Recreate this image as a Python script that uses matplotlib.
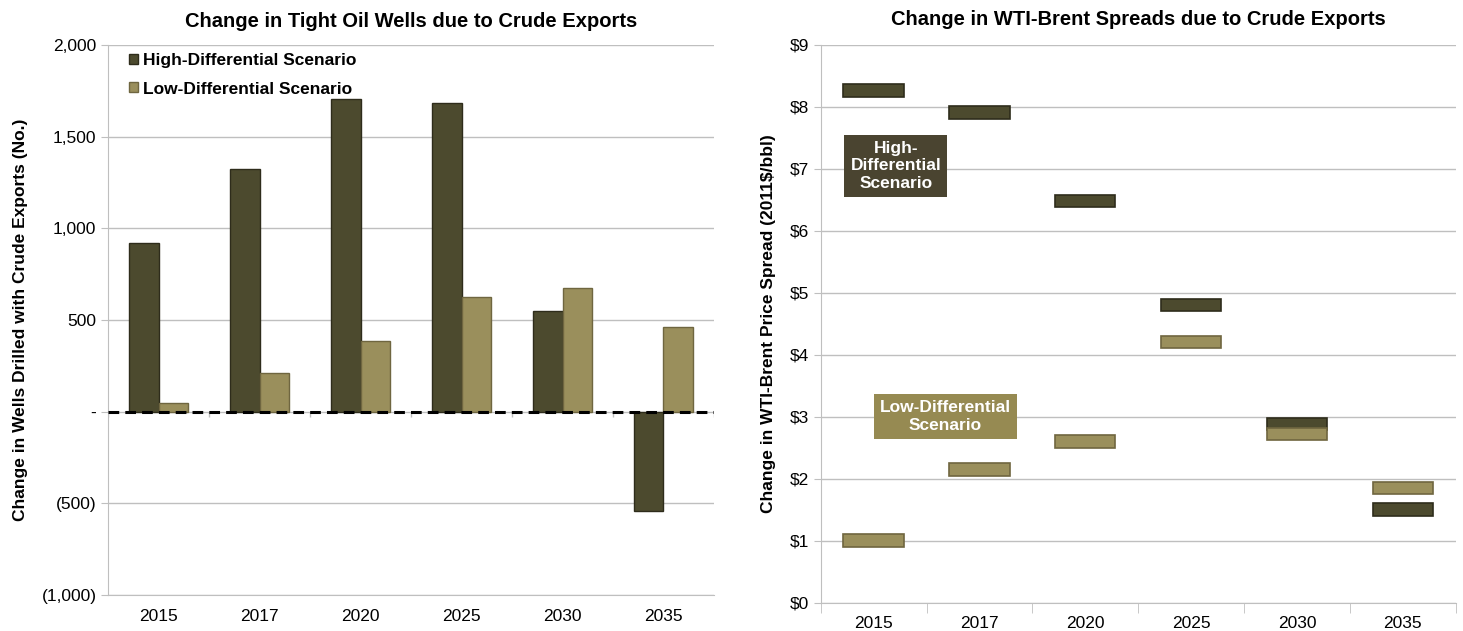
import matplotlib.pyplot as plt
import numpy as np
from matplotlib.ticker import FuncFormatter

plt.rcParams['font.family'] = ['Liberation Sans', 'DejaVu Sans']

years = ["2015", "2017", "2020", "2025", "2030", "2035"]
wells_high = [922, 1325, 1707, 1680, 548, -540]
wells_low = [45, 213, 387, 627, 676, 464]
spread_high = [8.26, 7.91, 6.48, 4.80, 2.88, 1.50]
spread_low = [1.00, 2.15, 2.60, 4.20, 2.72, 1.85]

DARK = "#4c4a2e"
LIGHT = "#9a8f5c"
DARK_EDGE = "#2e2c1b"
LIGHT_EDGE = "#6f6640"
GRID = "#bfbfbf"

fig = plt.figure(figsize=(14.63, 6.31), dpi=100)
ax1 = fig.add_axes([0.074, 0.057, 0.414, 0.872])
ax2 = fig.add_axes([0.561, 0.045, 0.434, 0.884])

x = np.arange(len(years))

# left: wells drilled
w = 0.29
ax1.bar(x - w / 2, wells_high, w, color=DARK, edgecolor=DARK_EDGE, lw=1,
        label="High-Differential Scenario", zorder=3)
ax1.bar(x + w / 2, wells_low, w, color=LIGHT, edgecolor=LIGHT_EDGE, lw=1,
        label="Low-Differential Scenario", zorder=3)
ax1.axhline(0, color="black", lw=2.2, ls=(0, (3.5, 2)), zorder=4)
ax1.set_ylim(-1000, 2000)
ax1.set_xlim(-0.5, len(years) - 0.5)
ax1.set_yticks(np.arange(-1000, 2001, 500))


def wells_fmt(v, pos):
    if v == 0:
        return "-"
    if v < 0:
        return "({:,.0f})".format(-v)
    return "{:,.0f}".format(v)


ax1.yaxis.set_major_formatter(FuncFormatter(wells_fmt))
ax1.set_xticks(x)
ax1.set_xticklabels(years)
ax1.tick_params(axis="x", length=0, pad=10)
ax1.vlines(np.arange(-0.5, len(years)), -28, 0, color=GRID, lw=1, zorder=2)
ax1.grid(axis="y", color=GRID, lw=1)
ax1.set_axisbelow(True)
for s in ["top", "right"]:
    ax1.spines[s].set_visible(False)
ax1.spines["left"].set_color(GRID)
ax1.spines["bottom"].set_color(GRID)
ax1.tick_params(axis="y", color=GRID, length=5, labelsize=12.5)
ax1.tick_params(axis="x", labelsize=12.5)
ax1.set_ylabel("Change in Wells Drilled with Crude Exports (No.)",
               fontsize=12.5, fontweight="bold", labelpad=10)
ax1.set_title("Change in Tight Oil Wells due to Crude Exports",
              fontsize=14.5, fontweight="bold", pad=13)
leg = ax1.legend(loc="upper left", bbox_to_anchor=(0.02, 1.0), frameon=False,
                 prop={"weight": "bold", "size": 12.5}, handlelength=0.5,
                 handleheight=0.5, handletextpad=0.3, borderaxespad=0.1,
                 labelspacing=0.75)

# right: WTI-Brent spreads (floating boxes)
bw = 0.57
bh = 0.2
for vals, col, ec in [(spread_high, DARK, DARK_EDGE), (spread_low, LIGHT, LIGHT_EDGE)]:
    v = np.array(vals)
    ax2.bar(x, bh, bw, bottom=v - bh / 2, color=col, edgecolor=ec, lw=1.2,
            zorder=3)
ax2.set_ylim(0, 9)
ax2.set_xlim(-0.5, len(years) - 0.5)
ax2.set_yticks(np.arange(0, 10, 1))
ax2.yaxis.set_major_formatter(FuncFormatter(lambda v, p: "${:.0f}".format(v)))
ax2.set_xticks(x)
ax2.set_xticklabels(years)
ax2.set_xticks(np.arange(-0.5, len(years)), minor=True)
ax2.tick_params(axis="x", which="major", length=0, pad=10, labelsize=12.5)
ax2.tick_params(axis="x", which="minor", length=7, color=GRID)
ax2.tick_params(axis="y", color=GRID, length=5, labelsize=12.5)
ax2.grid(axis="y", color=GRID, lw=1)
ax2.set_axisbelow(True)
for s in ["top", "right"]:
    ax2.spines[s].set_visible(False)
ax2.spines["left"].set_color(GRID)
ax2.spines["bottom"].set_color(GRID)
ax2.set_ylabel("Change in WTI-Brent Price Spread (2011$/bbl)",
               fontsize=12.5, fontweight="bold", labelpad=10)
ax2.set_title("Change in WTI-Brent Spreads due to Crude Exports",
              fontsize=14.5, fontweight="bold", pad=14)

ax2.text(0.21, 7.05, "High-\nDifferential\nScenario", ha="center", va="center",
         color="white", fontsize=12.5, fontweight="bold", linespacing=1.2,
         bbox=dict(boxstyle="square,pad=0.35", fc="#4a4430", ec="none"),
         zorder=5)
ax2.text(0.68, 3.0, "Low-Differential\nScenario", ha="center", va="center",
         color="white", fontsize=12.5, fontweight="bold", linespacing=1.2,
         bbox=dict(boxstyle="square,pad=0.35", fc="#968a52", ec="none"),
         zorder=5)

plt.savefig("out.png", dpi=100)
plt.close()
